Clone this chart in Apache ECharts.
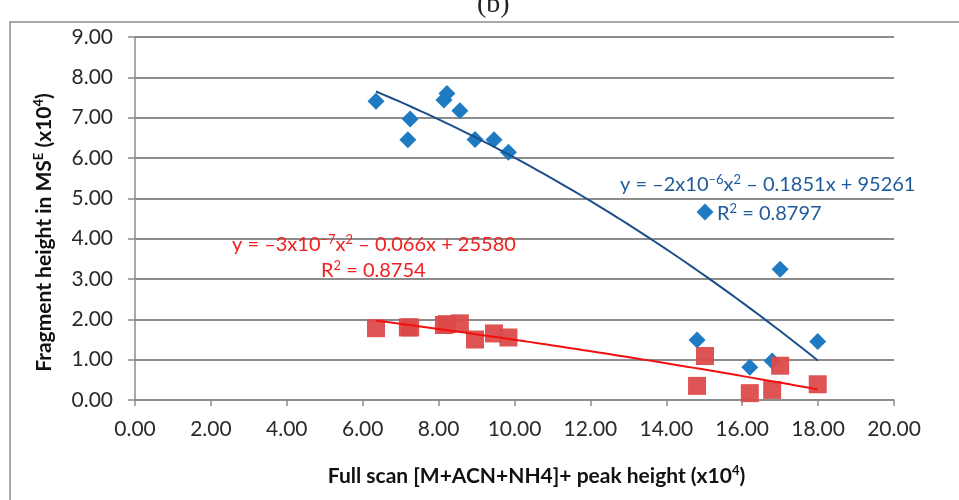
<!DOCTYPE html>
<html>
<head>
<meta charset="utf-8">
<script src="https://cdn.jsdelivr.net/npm/echarts@6/dist/echarts.min.js"></script>
<style>
  html, body { margin: 0; padding: 0; background: #fff; }
  #main { width: 959px; height: 500px; }
</style>
</head>
<body>
<div id="main"></div>
<script>
// full scan peak height (x10^4), shared by both series
var fullScan = [6.35, 7.19, 7.25, 8.14, 8.22, 8.56, 8.96, 9.46, 9.84, 14.81, 15.02, 16.20, 16.79, 17.00, 17.99];
// fragment heights in MS^E (x10^4)
var blueFragment = [7.41, 6.45, 6.97, 7.44, 7.60, 7.17, 6.46, 6.45, 6.14, 1.49, 4.66, 0.81, 0.97, 3.24, 1.45];
var redFragment = [1.78, 1.80, 1.80, 1.86, 1.88, 1.90, 1.50, 1.65, 1.55, 0.35, 1.09, 0.17, 0.25, 0.85, 0.39];

var xTicks = [0, 20, 2];
var yTicks = [0, 9, 1];

var blueColor = "#1f7bc1";
var redColor = "#dc4a4a";
var font = "Lato";

// least squares quadratic, like the spreadsheet trendline
function quadFit(xs, ys) {
  var n = xs.length, s = [0, 0, 0, 0, 0], t = [0, 0, 0];
  for (var i = 0; i < n; i++) {
    var p = 1;
    for (var k = 0; k < 5; k++) { s[k] += p; if (k < 3) t[k] += p * ys[i]; p *= xs[i]; }
  }
  var m = [[s[0], s[1], s[2], t[0]], [s[1], s[2], s[3], t[1]], [s[2], s[3], s[4], t[2]]];
  for (var c = 0; c < 3; c++) {
    for (var r = c + 1; r < 3; r++) {
      var f = m[r][c] / m[c][c];
      for (var j = c; j < 4; j++) m[r][j] -= f * m[c][j];
    }
  }
  var coef = [0, 0, 0];
  for (var r2 = 2; r2 >= 0; r2--) {
    var v = m[r2][3];
    for (var j2 = r2 + 1; j2 < 3; j2++) v -= m[r2][j2] * coef[j2];
    coef[r2] = v / m[r2][r2];
  }
  return coef; // c0 + c1 x + c2 x^2
}

function trendPoints(xs, ys) {
  var c = quadFit(xs, ys);
  var lo = Math.min.apply(null, xs), hi = Math.max.apply(null, xs);
  var pts = [];
  for (var i = 0; i <= 60; i++) {
    var x = lo + (hi - lo) * i / 60;
    pts.push([x, c[0] + c[1] * x + c[2] * x * x]);
  }
  return pts;
}

function pairs(xs, ys) {
  return xs.map(function (x, i) { return [x, ys[i]]; });
}

var sup = { fontSize: 13, verticalAlign: "top", lineHeight: 15 };

var titleRich = {
  t: { fontFamily: font, fontWeight: "bold", fontSize: 21, color: "#111", lineHeight: 25 },
  s: Object.assign({ fontFamily: font, fontWeight: "bold", color: "#111" }, sup)
};

function eqRich(color) {
  return {
    t: { fontFamily: font, fontSize: 20, fill: color, lineHeight: 23 },
    s: Object.assign({ fontFamily: font, fill: color }, sup)
  };
}

var chart = echarts.init(document.getElementById("main"));

chart.setOption({
  animation: false,
  grid: { left: 135, right: 65, top: 37, bottom: 100 },
  xAxis: {
    type: "value",
    min: xTicks[0], max: xTicks[1], interval: xTicks[2],
    axisLine: { lineStyle: { color: "#8c8c8c", width: 1.5 } },
    axisTick: { length: 6, lineStyle: { color: "#8c8c8c", width: 1.5 } },
    splitLine: { show: false },
    axisLabel: { margin: 19, color: "#2a2a2a", fontFamily: font, fontSize: 21, formatter: function (v) { return v.toFixed(2); } },
    name: "{t|Full scan [M+ACN+NH4]+ peak height (x10}{s|4}{t|)}",
    nameLocation: "middle",
    nameGap: 64,
    nameTextStyle: { rich: titleRich, padding: [0, 0, 0, 44] }
  },
  yAxis: {
    type: "value",
    min: yTicks[0], max: yTicks[1], interval: yTicks[2],
    axisLine: { show: true, lineStyle: { color: "#8c8c8c", width: 1.5 } },
    axisTick: { show: true, length: 7, lineStyle: { color: "#8c8c8c", width: 1.5 } },
    splitLine: { lineStyle: { color: "#8c8c8c", width: 2 } },
    axisLabel: { margin: 22, color: "#2a2a2a", fontFamily: font, fontSize: 21, formatter: function (v) { return v.toFixed(2); } },
    name: "{t|Fragment height in MS}{s|E}{t| (x10}{s|4}{t|)}",
    nameLocation: "middle",
    nameGap: 78,
    nameTextStyle: { rich: titleRich, padding: [0, 28, 0, 0] }
  },
  series: [
    {
      name: "blue trend",
      type: "line",
      data: trendPoints(fullScan, blueFragment),
      showSymbol: false,
      lineStyle: { color: "#1c4f8a", width: 2 },
      z: 3
    },
    {
      name: "red trend",
      type: "line",
      data: trendPoints(fullScan, redFragment),
      showSymbol: false,
      lineStyle: { color: "#f01010", width: 2 },
      z: 3
    },
    {
      name: "blue",
      type: "scatter",
      data: pairs(fullScan, blueFragment),
      symbol: "diamond",
      symbolSize: [17, 17],
      itemStyle: { color: blueColor, opacity: 1 },
      z: 2
    },
    {
      name: "red",
      type: "scatter",
      data: pairs(fullScan, redFragment),
      symbol: "rect",
      symbolSize: 18,
      itemStyle: { color: redColor, opacity: 0.95 },
      z: 2
    }
  ],
  graphic: [
    {
      type: "rect",
      shape: { x: 10, y: 22, width: 1000, height: 600 },
      style: { fill: "none", stroke: "#8c8c8c", lineWidth: 1.5 },
      silent: true
    },
    {
      type: "text",
      left: 477, top: -9,
      style: { text: "(b)", fontSize: 28, fontFamily: "Liberation Serif", fill: "#222" }
    },
    {
      type: "text",
      left: 620, top: 173,
      style: { text: "{t|y = \u20132x10}{s|\u20136}{t|x}{s|2}{t| \u2013 0.1851x + 95261}", rich: eqRich("#1f5b9a") },
      z: 10
    },
    {
      type: "text",
      left: 717, top: 202,
      style: { text: "{t|R}{s|2}{t| = 0.8797}", rich: eqRich("#1f5b9a") },
      z: 10
    },
    {
      type: "text",
      left: 232, top: 233,
      style: { text: "{t|y = \u20133x10}{s|\u20137}{t|x}{s|2}{t| \u2013 0.066x + 25580}", rich: eqRich("#f02020") },
      z: 10
    },
    {
      type: "text",
      left: 321, top: 259,
      style: { text: "{t|R}{s|2}{t| = 0.8754}", rich: eqRich("#f02020") },
      z: 10
    }
  ]
});
</script>
</body>
</html>
